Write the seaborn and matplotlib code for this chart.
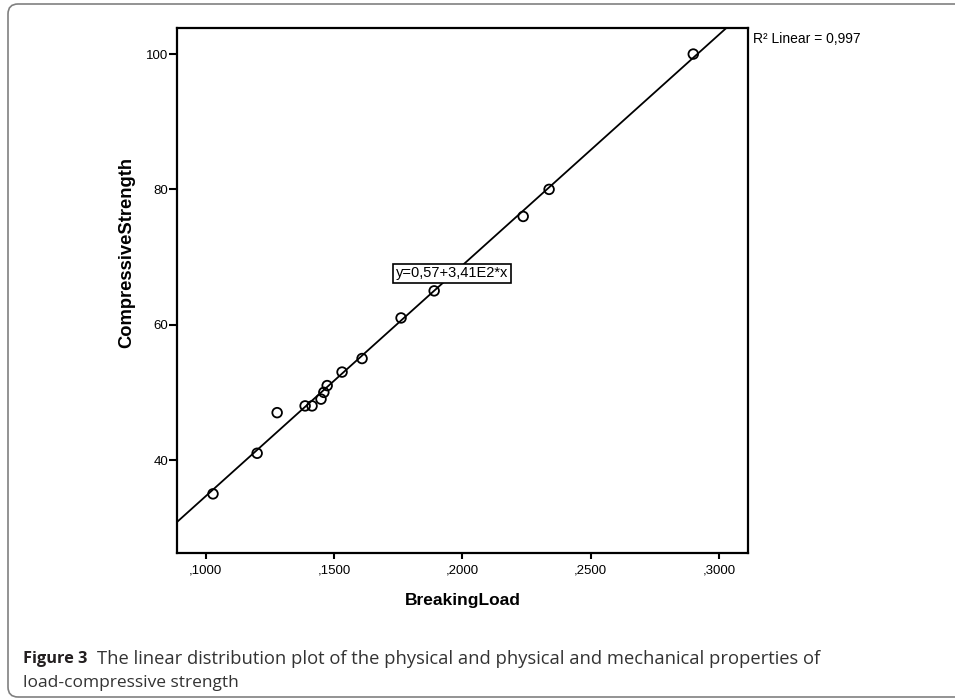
import matplotlib
matplotlib.use("Agg")
import matplotlib.pyplot as plt
import matplotlib.transforms as mtransforms
from matplotlib.patches import FancyBboxPatch
import seaborn as sns
import pandas as pd

# ---- data ----
breaking_load = [0.1028, 0.1200, 0.1278, 0.1387, 0.1414, 0.1449, 0.1460, 0.1473,
                 0.1531, 0.1609, 0.1761, 0.1890, 0.2237, 0.2338, 0.2900]
compressive_strength = [35, 41, 47, 48, 48, 49, 50, 51, 53, 55, 61, 65, 76, 80, 100]
fit_intercept = 0.57
fit_slope = 341.0
r2_text = "R\u00b2 Linear = 0,997"
equation_text = "y=0,57+3,41E2*x"
x_ticks = [0.10, 0.15, 0.20, 0.25, 0.30]
x_tick_labels = [",1000", ",1500", ",2000", ",2500", ",3000"]
y_ticks = [40, 60, 80, 100]
y_tick_labels = ["40", "60", "80", "100"]
x_label = "BreakingLoad"
y_label = "CompressiveStrength"
caption_bold = "Figure 3"
caption_rest_1 = "The linear distribution plot of the physical and physical and mechanical properties of"
caption_rest_2 = "load-compressive strength"

df = pd.DataFrame({"BreakingLoad": breaking_load, "CompressiveStrength": compressive_strength})

sns.set_theme(style="ticks")
plt.rcParams['font.family'] = ['Liberation Sans', 'DejaVu Sans']
plt.rcParams['text.color'] = 'black'
plt.rcParams['axes.labelcolor'] = 'black'

fig = plt.figure(figsize=(9.55, 7), dpi=100)
fig.patch.set_facecolor("white")
ax = fig.add_axes([0.1857, 0.2104, 0.5972, 0.7491])
ax.set_facecolor("white")
ax.set_xlim(0.0889, 0.3112)
ax.set_ylim(26.3, 103.8)

ax.axline((0, fit_intercept), slope=fit_slope, color="black", lw=1.3, zorder=2)
sns.scatterplot(data=df, x="BreakingLoad", y="CompressiveStrength", ax=ax,
                marker="o", s=48, facecolor="none", edgecolor="black",
                linewidth=1.3, zorder=3)

ax.set_xticks(x_ticks)
ax.set_xticklabels(x_tick_labels)
ax.set_yticks(y_ticks)
ax.set_yticklabels(y_tick_labels)
for sp in ax.spines.values():
    sp.set_visible(True)
    sp.set_linewidth(1.6)
    sp.set_color("black")
ax.tick_params(axis="x", direction="out", length=4.5, width=1.5, labelsize=9.5,
               pad=4, colors="black")
ax.tick_params(axis="y", direction="out", length=5.5, width=1.5, labelsize=9.5,
               pad=1, colors="black")

ax.set_xlabel(x_label, fontsize=12.5, fontweight="bold", labelpad=12)
ax.set_ylabel(y_label, fontsize=13.2, fontweight="bold")
ax.yaxis.set_label_coords(-0.0742, 0.573)

ax.text(0.196, 67.6, equation_text, ha="center", va="center", fontsize=10.5,
        bbox=dict(boxstyle="square,pad=0.18", fc="white", ec="black", lw=1.2), zorder=4)
ax.text(1.0088, 0.9796, r2_text, transform=ax.transAxes, ha="left", va="center",
        fontsize=10)

# caption
cap_font = ['Open Sans', 'DejaVu Sans']
t1 = fig.text(23 / 955, 1 - 659 / 700, caption_bold, family=cap_font, fontweight="bold",
              fontsize=11.8, va="center", ha="left", color="#231f20")
renderer = fig.canvas.get_renderer()
bb = t1.get_window_extent(renderer=renderer)
fig.text((bb.x1 + 10) / 955, 1 - 659 / 700, caption_rest_1, family=cap_font,
         fontsize=13.2, va="center", ha="left", color="#333333")
fig.text(23 / 955, 1 - 683 / 700, caption_rest_2, family=cap_font,
         fontsize=12.5, va="center", ha="left", color="#333333")

# outer frame
frame = FancyBboxPatch((8, 3), 990, 693, boxstyle="round,pad=0,rounding_size=10",
                       transform=mtransforms.IdentityTransform(), fill=False,
                       ec="#808080", lw=1.2, clip_on=False)
fig.add_artist(frame)

fig.savefig("out.png", dpi=100)
